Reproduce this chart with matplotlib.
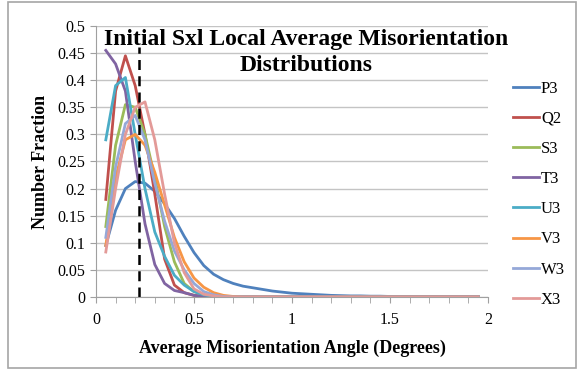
import numpy as np
import matplotlib
matplotlib.use('Agg')
import matplotlib.pyplot as plt
from matplotlib.patches import Rectangle
from matplotlib.ticker import MultipleLocator

plt.rcParams['font.family'] = ['Liberation Serif', 'DejaVu Serif']

# misorientation angle bins (degrees)
angle = [0.05, 0.10, 0.15, 0.20, 0.25, 0.30, 0.35, 0.40, 0.45, 0.50,
         0.55, 0.60, 0.65, 0.70, 0.75, 0.80, 0.85, 0.90, 0.95, 1.00,
         1.05, 1.10, 1.15, 1.20, 1.25, 1.30, 1.35, 1.40, 1.45, 1.50,
         1.55, 1.60, 1.65, 1.70, 1.75, 1.80, 1.85, 1.90, 1.95]

P3 = [0.095, 0.160, 0.200, 0.213, 0.210, 0.195, 0.172, 0.145, 0.112, 0.082,
      0.058, 0.042, 0.032, 0.025, 0.020, 0.017, 0.014, 0.011, 0.009, 0.007,
      0.006, 0.005, 0.004, 0.003, 0.0025, 0.002, 0.002, 0.0015, 0.0015, 0.001,
      0.001, 0.001, 0.001, 0.0008, 0.0008, 0.0006, 0.0006, 0.0005, 0.0005]
Q2 = [0.180, 0.380, 0.445, 0.390, 0.300, 0.190, 0.070, 0.022, 0.008, 0.003,
      0.001, 0, 0, 0, 0, 0, 0, 0, 0, 0,
      0, 0, 0, 0, 0, 0, 0, 0, 0, 0,
      0, 0, 0, 0, 0, 0, 0, 0, 0]
S3 = [0.130, 0.280, 0.355, 0.350, 0.300, 0.220, 0.130, 0.065, 0.025, 0.010,
      0.004, 0.001, 0, 0, 0, 0, 0, 0, 0, 0,
      0, 0, 0, 0, 0, 0, 0, 0, 0, 0,
      0, 0, 0, 0, 0, 0, 0, 0, 0]
T3 = [0.455, 0.430, 0.380, 0.250, 0.135, 0.060, 0.025, 0.012, 0.008, 0.003,
      0.001, 0, 0, 0, 0, 0, 0, 0, 0, 0,
      0, 0, 0, 0, 0, 0, 0, 0, 0, 0,
      0, 0, 0, 0, 0, 0, 0, 0, 0]
U3 = [0.290, 0.390, 0.405, 0.300, 0.200, 0.120, 0.075, 0.040, 0.022, 0.010,
      0.004, 0.001, 0, 0, 0, 0, 0, 0, 0, 0,
      0, 0, 0, 0, 0, 0, 0, 0, 0, 0,
      0, 0, 0, 0, 0, 0, 0, 0, 0]
V3 = [0.095, 0.220, 0.290, 0.300, 0.280, 0.230, 0.170, 0.110, 0.065, 0.035,
      0.018, 0.008, 0.003, 0.001, 0, 0, 0, 0, 0, 0,
      0, 0, 0, 0, 0, 0, 0, 0, 0, 0,
      0, 0, 0, 0, 0, 0, 0, 0, 0]
W3 = [0.110, 0.240, 0.320, 0.335, 0.290, 0.210, 0.140, 0.085, 0.050, 0.025,
      0.010, 0.004, 0.001, 0, 0, 0, 0, 0, 0, 0,
      0, 0, 0, 0, 0, 0, 0, 0, 0, 0,
      0, 0, 0, 0, 0, 0, 0, 0, 0]
X3 = [0.083, 0.200, 0.300, 0.350, 0.360, 0.290, 0.190, 0.100, 0.045, 0.015,
      0.005, 0.002, 0, 0, 0, 0, 0, 0, 0, 0,
      0, 0, 0, 0, 0, 0, 0, 0, 0, 0,
      0, 0, 0, 0, 0, 0, 0, 0, 0]

series = {'P3': P3, 'Q2': Q2, 'S3': S3, 'T3': T3,
          'U3': U3, 'V3': V3, 'W3': W3, 'X3': X3}
colors = ['#4F81BD', '#C0504D', '#9BBB59', '#8064A2',
          '#4BACC6', '#F79646', '#95A8D8', '#E39A98']

cutoff = 0.22

fig = plt.figure(figsize=(5.8, 3.74), dpi=100)
fig.patches.append(Rectangle((8/580, 6/374), 568/580, 366/374, transform=fig.transFigure,
                             fill=False, edgecolor='#a6a6a6', lw=1.2))
ax = fig.add_axes([96/580, 1-297/374, 392/580, 271/374])

for (name, vals), c in zip(series.items(), colors):
    ax.plot(angle, vals, color=c, lw=2, label=name, solid_joinstyle='round')

ax.plot([cutoff, cutoff], [0, 0.462], color='black', lw=1.8, ls=(0, (4, 2.5)))

ax.set_xlim(0, 2)
ax.set_ylim(0, 0.5)
ax.xaxis.set_major_locator(MultipleLocator(0.5))
ax.xaxis.set_minor_locator(MultipleLocator(0.1))
ax.yaxis.set_major_locator(MultipleLocator(0.05))
ax.xaxis.set_major_formatter(matplotlib.ticker.FuncFormatter(lambda v, p: '%g' % round(v, 2)))
ax.yaxis.set_major_formatter(matplotlib.ticker.FuncFormatter(lambda v, p: '%g' % round(v, 2)))
ax.grid(axis='y', color='#c4c4c4', lw=1)
ax.set_axisbelow(True)
for s in ['top', 'right']:
    ax.spines[s].set_visible(False)
for s in ['left', 'bottom']:
    ax.spines[s].set_color('#a0a0a0')
ax.tick_params(axis='both', which='both', color='#a0a0a0', labelsize=11.5)
ax.tick_params(axis='x', which='major', length=4, pad=7)
ax.tick_params(axis='x', which='minor', length=4)
ax.tick_params(axis='y', length=4, pad=4)

ax.set_xlabel('Average Misorientation Angle (Degrees)', fontsize=13, fontweight='bold', labelpad=8)
ax.set_ylabel('Number Fraction', fontsize=13, fontweight='bold', labelpad=6)
fig.text(306/580, 1-29/374, 'Initial Sxl Local Average Misorientation\nDistributions',
         ha='center', va='top', fontsize=17, fontweight='bold', linespacing=1.3)

ax.legend(loc='upper left', bbox_to_anchor=(506/580, 1-74/374), bbox_transform=fig.transFigure,
          frameon=False, fontsize=12, handlelength=1.55, handletextpad=0.15, labelspacing=0.85,
          borderaxespad=0)

fig.savefig('out.png', dpi=100)
